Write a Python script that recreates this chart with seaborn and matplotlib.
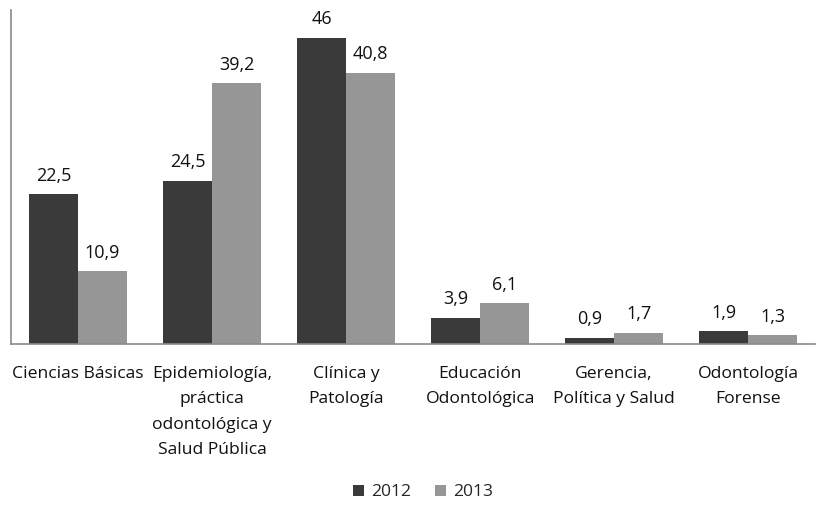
import matplotlib
matplotlib.use("Agg")
import matplotlib.pyplot as plt
import seaborn as sns
import pandas as pd

categories = ["Ciencias Básicas", "Epidemiología,\npráctica\nodontológica y\nSalud Pública",
              "Clínica y\nPatología", "Educación\nOdontológica", "Gerencia,\nPolítica y Salud",
              "Odontología\nForense"]
values_2012 = [22.5, 24.5, 46, 3.9, 0.9, 1.9]
values_2013 = [10.9, 39.2, 40.8, 6.1, 1.7, 1.3]
years = ["2012", "2013"]
colors = ["#3a3a3a", "#969696"]

df = pd.DataFrame({
    "cat": categories * 2,
    "val": values_2012 + values_2013,
    "year": [years[0]] * len(categories) + [years[1]] * len(categories),
})

sns.set_theme(style="white")
plt.rcParams['font.family'] = ['Open Sans', 'DejaVu Sans']

fig = plt.figure(figsize=(8.18, 5.05), dpi=100)
ax = fig.add_axes([0.0135, 0.319, 0.983, 0.661])
sns.barplot(data=df, x="cat", y="val", hue="year", palette=colors, ax=ax,
            width=0.73, saturation=1, edgecolor="none", linewidth=0, legend=True)

for cont in ax.containers:
    labels = [f"{v:g}".replace(".", ",") for v in cont.datavalues]
    ax.bar_label(cont, labels=labels, padding=7, fontsize=13, color="#111111")

ax.set_ylim(0, 50.2)
ax.set_xlim(-0.5, 5.5)
ax.set_xlabel("")
ax.set_ylabel("")
ax.set_yticks([])
ax.tick_params(axis="x", length=0, pad=16, labelsize=12.6, labelcolor="#111111")
for lbl in ax.get_xticklabels():
    lbl.set_linespacing(1.78)
for s in ["top", "right"]:
    ax.spines[s].set_visible(False)
for s in ["left", "bottom"]:
    ax.spines[s].set_color("#8a8a8a")
    ax.spines[s].set_linewidth(1.2)

handles, labs = ax.get_legend_handles_labels()
ax.get_legend().remove()
fig.legend(handles, labs, loc="center", bbox_to_anchor=(0.517, 0.025), ncol=2, frameon=False,
           fontsize=12.6, handlelength=0.6, handleheight=0.6, handletextpad=0.4,
           columnspacing=1.4)

fig.savefig("out.png", dpi=100)
